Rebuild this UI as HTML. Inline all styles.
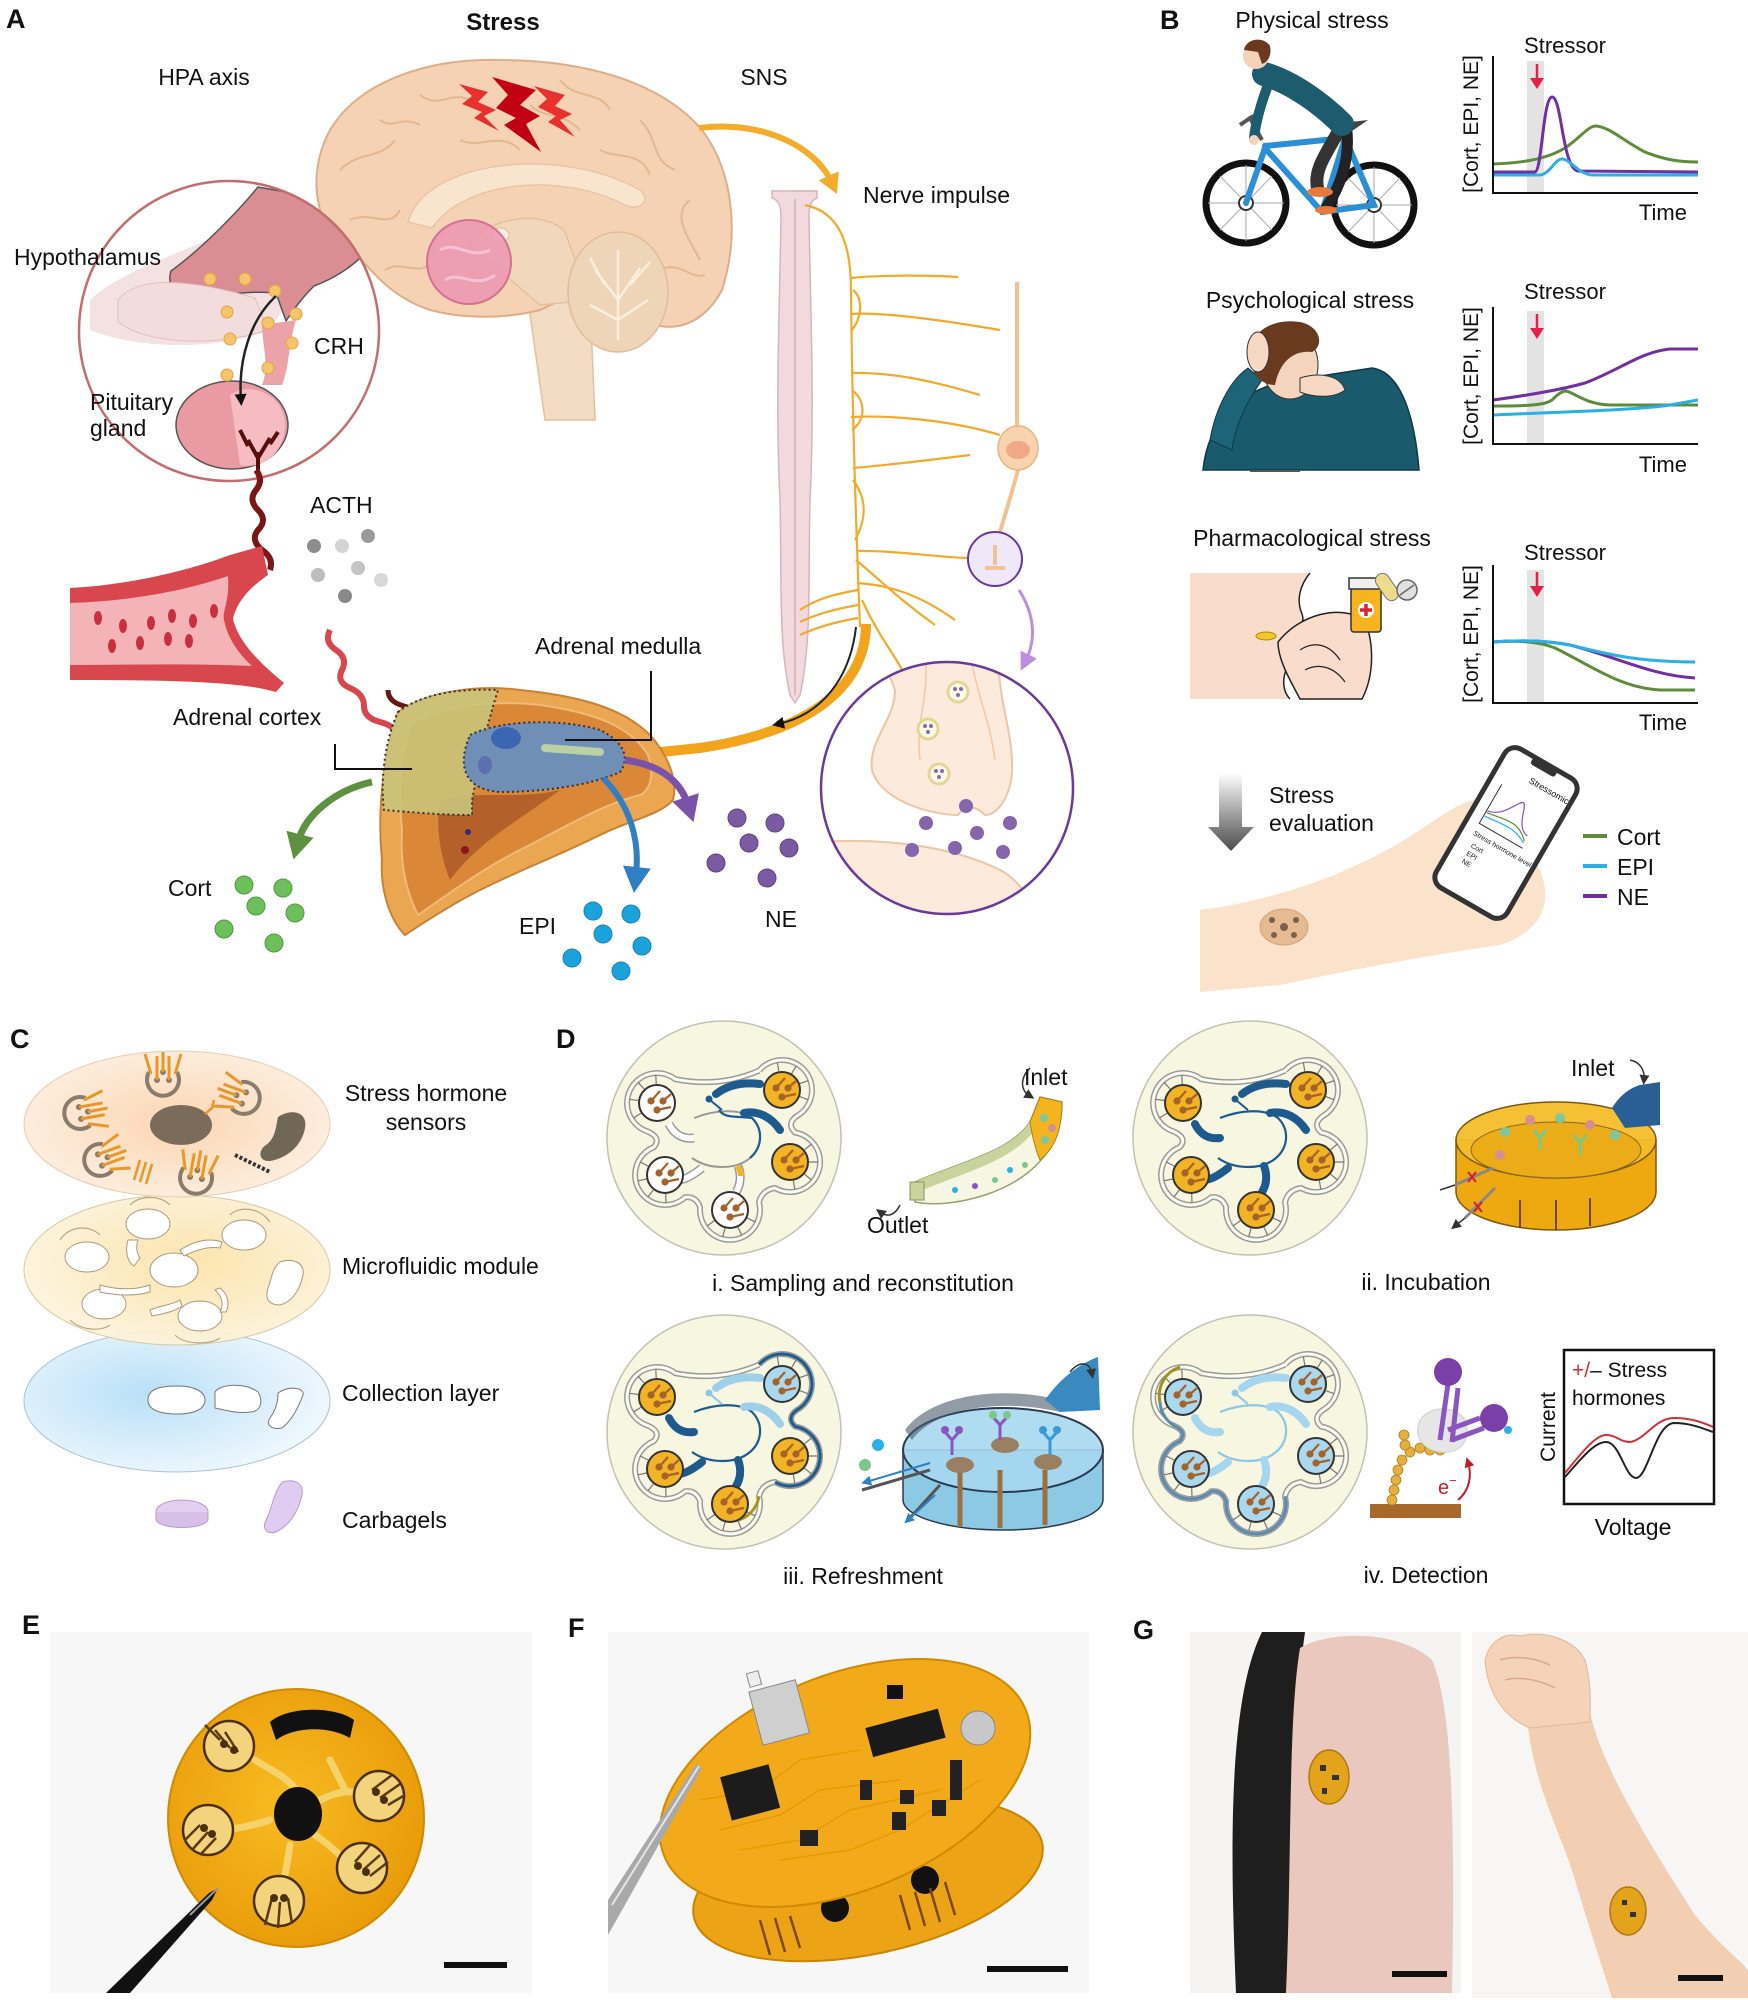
<!DOCTYPE html>
<html><head><meta charset="utf-8"><style>
html,body{margin:0;padding:0;background:#fff;}
svg{display:block;}
text{font-family:"Liberation Sans",Arial,sans-serif;fill:#111;}
.b{font-weight:bold;}
</style></head><body>
<svg width="1748" height="2000" viewBox="0 0 1748 2000" xmlns="http://www.w3.org/2000/svg">
<defs>
 <marker id="mOr" markerUnits="userSpaceOnUse" markerWidth="22" markerHeight="22" refX="8" refY="11" orient="auto"><path d="M0,0 L20,11 L0,22 z" fill="#f3ad2c"/></marker>
 <marker id="mBk" markerUnits="userSpaceOnUse" markerWidth="12" markerHeight="12" refX="6" refY="6" orient="auto"><path d="M0,0 L12,6 L0,12 z" fill="#111"/></marker>
 <marker id="mGr" markerUnits="userSpaceOnUse" markerWidth="28" markerHeight="28" refX="8" refY="14" orient="auto"><path d="M0,0 L26,14 L0,28 z" fill="#5d913f"/></marker>
 <marker id="mBl" markerUnits="userSpaceOnUse" markerWidth="28" markerHeight="28" refX="8" refY="14" orient="auto"><path d="M0,0 L26,14 L0,28 z" fill="#2f7fc4"/></marker>
 <marker id="mPu" markerUnits="userSpaceOnUse" markerWidth="28" markerHeight="28" refX="8" refY="14" orient="auto"><path d="M0,0 L26,14 L0,28 z" fill="#7a52aa"/></marker>
 <marker id="mLp" markerUnits="userSpaceOnUse" markerWidth="18" markerHeight="18" refX="6" refY="9" orient="auto"><path d="M0,0 L18,9 L0,18 z" fill="#bb8ee0"/></marker>
 <marker id="mSm" markerUnits="userSpaceOnUse" markerWidth="10" markerHeight="10" refX="5" refY="5" orient="auto"><path d="M0,0 L10,5 L0,10 z" fill="#333"/></marker>
 <marker id="mRd" markerUnits="userSpaceOnUse" markerWidth="10" markerHeight="10" refX="5" refY="5" orient="auto"><path d="M0,0 L10,5 L0,10 z" fill="#c0202a"/></marker>
 <marker id="mDb" markerUnits="userSpaceOnUse" markerWidth="10" markerHeight="10" refX="5" refY="5" orient="auto"><path d="M0,0 L10,5 L0,10 z" fill="#2f7fc4"/></marker>
 <linearGradient id="gArrow" x1="0" y1="0" x2="0" y2="1"><stop offset="0" stop-color="#ffffff"/><stop offset="1" stop-color="#4a4a4a"/></linearGradient>
 <radialGradient id="gTop" cx="0.5" cy="0.5" r="0.6"><stop offset="0" stop-color="#fbd3ad"/><stop offset="1" stop-color="#fdf1e4"/></radialGradient>
 <radialGradient id="gMid" cx="0.55" cy="0.45" r="0.6"><stop offset="0" stop-color="#fbe2a6"/><stop offset="1" stop-color="#fdf4df"/></radialGradient>
 <radialGradient id="gBot" cx="0.4" cy="0.45" r="0.6"><stop offset="0" stop-color="#b9e0f8"/><stop offset="1" stop-color="#eef7fd"/></radialGradient>
 <radialGradient id="gDisc" cx="0.45" cy="0.45" r="0.6"><stop offset="0" stop-color="#f8bb22"/><stop offset="1" stop-color="#e89a08"/></radialGradient>
 <clipPath id="cpH"><circle cx="229" cy="331" r="149"/></clipPath>
 <clipPath id="cpS"><circle cx="947" cy="788" r="125"/></clipPath>

 <g id="elO"><circle r="18" fill="#f2b324" stroke="#333" stroke-width="2"/><path d="M-6,-2 L3,-12 M6,-2 L14,-9 M0,7 L14,4" stroke="#a5632a" stroke-width="2.2" fill="none"/><circle cx="-6" cy="-2" r="3.6" fill="#a5632a"/><circle cx="6" cy="-2" r="3.6" fill="#a5632a"/><circle cx="0" cy="7" r="3.6" fill="#a5632a"/></g>
 <g id="elW"><circle r="18" fill="#fff" stroke="#333" stroke-width="2"/><path d="M-6,-2 L3,-12 M6,-2 L14,-9 M0,7 L14,4" stroke="#a5632a" stroke-width="2.2" fill="none"/><circle cx="-6" cy="-2" r="3.6" fill="#a5632a"/><circle cx="6" cy="-2" r="3.6" fill="#a5632a"/><circle cx="0" cy="7" r="3.6" fill="#a5632a"/></g>
 <g id="elB"><circle r="18" fill="#a9d8ef" stroke="#333" stroke-width="2"/><path d="M-6,-2 L3,-12 M6,-2 L14,-9 M0,7 L14,4" stroke="#a5632a" stroke-width="2.2" fill="none"/><circle cx="-6" cy="-2" r="3.6" fill="#a5632a"/><circle cx="6" cy="-2" r="3.6" fill="#a5632a"/><circle cx="0" cy="7" r="3.6" fill="#a5632a"/></g>
 <path id="flower" d="M35.1,-67.4 A30,30 0 1 1 72.8,-21.9 Q62,-14 71.2,-5.5 A30,30 0 1 1 51,50 Q38,52 35,64.3 A30,30 0 1 1 -23.9,69.3 Q-28,58 -38.9,59.3 A30,30 0 1 1 -70.3,9.2 Q-62,0 -76.1,-6.4 A30,30 0 1 1 -48.7,-58.8 Q-5,-50 35.1,-67.4"/>
 <g id="dbase">
  <circle r="117" fill="#f7f7e1" stroke="#c2c2b2" stroke-width="1.5"/>
  <use href="#flower" fill="none" stroke="#9a9a9a" stroke-width="6"/>
  <use href="#flower" fill="none" stroke="#fbfbf0" stroke-width="3"/>
  <g stroke="#777" stroke-width="1.2">
   <path d="M54.8,-66.7 L53.3,-75.6 M67.6,-64.4 L72.2,-72.1 M75.9,-54.4 L84.4,-57.4 M75.8,-41.4 L84.2,-38.2"/>
   <path d="M80.6,11.8 L87.4,6 M85,24 L94,24 M80.6,36.2 L87.4,42 M69.3,42.7 L70.9,51.6"/>
   <path d="M23.2,80.1 L31.3,83.9 M14,89.3 L17.7,97.4 M1,90.3 L-1.3,99 M-9.6,82.8 L-17,88"/>
   <path d="M-58.3,56 L-58,65 M-70.7,52 L-76.2,59.1 M-77.6,41 L-86.4,42.9 M-75.8,28.1 L-83.8,23.9"/>
   <path d="M-83,-24.8 L-90.6,-20 M-85.8,-37.5 L-94.7,-38.7 M-79.8,-49 L-85.9,-55.7 M-67.8,-54 L-68.2,-63"/>
  </g>
 </g>
 <g id="sensC" fill="none">
  <path d="M-14,-8 A16,16 0 1 0 14,-8" stroke="#8a7c6c" stroke-width="4"/>
  <circle cx="-6" cy="0" r="3" fill="#8a7c6c"/><circle cx="6" cy="0" r="3" fill="#8a7c6c"/><circle cx="0" cy="-8" r="3" fill="#8a7c6c"/>
  <path d="M-6,0 L-6,-24 M0,-8 L0,-28 M6,0 L6,-24 M12,-6 L18,-26 M-12,-6 L-18,-26" stroke="#e8982a" stroke-width="3"/>
 </g>
</defs>

<!-- ================= PANEL A ================= -->
<text x="6" y="28" font-size="27" class="b">A</text>
<text x="503" y="30" font-size="24" class="b" text-anchor="middle">Stress</text>
<text x="204" y="85" font-size="23" text-anchor="middle">HPA axis</text>
<text x="764" y="85" font-size="23" text-anchor="middle">SNS</text>

<!-- brain -->
<path d="M590,300 L595,420 L545,420 L528,300 Z" fill="#f3dcc4" stroke="#e3c09f" stroke-width="1.5"/>
<path d="M360,258 C318,240 303,180 330,130 C360,80 430,58 500,60 C580,60 660,80 702,130 C736,175 738,240 722,290 C706,320 682,330 660,326 L610,305 C575,292 560,300 540,310 C500,320 460,318 430,310 C400,300 380,282 360,258 Z" fill="#f4d2b3" stroke="#dfae89" stroke-width="2"/>
<g fill="none" stroke="#e3b792" stroke-width="2">
 <path d="M340,170 C360,150 380,160 395,140 M420,95 C440,110 450,90 470,100 M560,80 C575,100 600,90 610,110 M640,120 C660,140 650,160 675,170 M690,200 C670,215 690,240 700,260 M350,220 C370,210 390,230 400,210 M600,150 C620,160 640,150 650,175 M460,140 C480,150 500,130 520,150"/>
 <path d="M380,120 C395,130 400,115 420,125 M530,105 C545,120 560,110 580,130 M660,270 C680,260 690,280 705,275 M385,270 C400,260 415,275 430,265"/>
</g>
<path d="M408,222 C425,160 560,145 640,190 C652,200 640,212 625,205 C560,172 465,180 432,228 Z" fill="#f9e5cd" stroke="#e7c6a6" stroke-width="1.5"/>
<path d="M470,245 C490,215 545,210 565,232 L590,300 L540,305 Z" fill="#f1d8bd" stroke="#e3c09f" stroke-width="1.5"/>
<ellipse cx="500" cy="235" rx="9" ry="7" fill="#fbeede" stroke="#e0bb98"/>
<ellipse cx="618" cy="292" rx="50" ry="60" fill="#efd5b8" stroke="#e0bd9a" stroke-width="1.5"/>
<path d="M618,340 L618,250 M618,300 L595,270 M618,300 L640,268 M618,320 L590,305 M618,320 L648,300 M605,285 L590,258 M630,285 L650,262" stroke="#fbeede" stroke-width="2.5" fill="none"/>
<circle cx="469" cy="262" r="42" fill="#ec95b2" fill-opacity="0.85" stroke="#d66f93" stroke-width="2"/>
<path d="M440,250 C455,240 470,260 490,250 M445,280 C460,270 475,290 495,275" stroke="#f7c2d4" stroke-width="3" fill="none"/>
<!-- bolts -->
<polygon points="459,84 488,92 478,102 496,110 484,116 499,131 474,118 482,112 462,104 472,96" fill="#e8312f"/>
<polygon points="492,77 536,90 520,105 540,116 526,124 541,152 504,125 516,118 496,108 508,95" fill="#c20014"/>
<polygon points="534,86 565,95 555,106 572,114 560,120 575,137 548,122 556,116 538,107 547,99" fill="#e8312f"/>

<!-- hypothalamus zoom circle -->
<circle cx="229" cy="331" r="150" fill="#fff"/>
<g clip-path="url(#cpH)">
 <path d="M90,300 C130,260 240,240 320,180 L380,150 L390,200 C340,240 300,280 270,330 C220,350 140,350 90,330 Z" fill="#f4e2e2"/>
 <path d="M258,187 L331,200 C350,215 365,235 368,250 C350,270 330,280 314,286 C300,300 292,312 286,321 L276,293 C250,290 215,296 185,300 C170,292 168,280 171,271 C200,250 235,215 258,187 Z" fill="#da8e93" stroke="#555" stroke-width="1.5"/>
 <path d="M118,300 C140,272 200,282 255,298 L268,330 C220,346 150,346 118,322 Z" fill="#f2dcdc" stroke="#e0c0c0"/>
 <path d="M262,325 C262,345 270,365 262,385 L282,385 C290,365 288,345 296,320 Z" fill="#eba3a9"/>
 <ellipse cx="232" cy="425" rx="56" ry="44" fill="#ea9aa2" stroke="#555" stroke-width="1.5"/>
 <path d="M230,395 C250,380 285,395 285,425 C285,455 260,470 240,465 Z" fill="#f6bcc1"/>
</g>
<circle cx="229" cy="331" r="150" fill="none" stroke="#c46d6f" stroke-width="2.5"/>
<g fill="#f6c46b" stroke="#e2a445" stroke-width="1">
 <circle cx="210" cy="279" r="6"/><circle cx="245" cy="279" r="6"/><circle cx="275" cy="291" r="6"/><circle cx="227" cy="312" r="6"/><circle cx="268" cy="323" r="6"/><circle cx="296" cy="314" r="6"/><circle cx="230" cy="339" r="6"/><circle cx="292" cy="343" r="6"/><circle cx="268" cy="368" r="6"/><circle cx="227" cy="375" r="6"/>
</g>
<path d="M276,296 C250,320 238,360 241,400" stroke="#222" stroke-width="2.5" fill="none" marker-end="url(#mBk)"/>
<path d="M258,472 L258,452 M258,458 L248,440 M258,458 L270,438 M248,446 L240,430 M270,444 L278,432" stroke="#5a0d0d" stroke-width="4" fill="none"/>
<text x="14" y="265" font-size="23">Hypothalamus</text>
<text x="314" y="354" font-size="23">CRH</text>
<text x="90" y="410" font-size="23">Pituitary</text>
<text x="90" y="436" font-size="23">gland</text>
<text x="310" y="513" font-size="23">ACTH</text>

<!-- wavy vessels -->
<path d="M256,470 q8,10 0,20 q-8,10 2,20 q10,10 0,20 q-8,10 4,20 q12,8 8,20" stroke="#7a1616" stroke-width="6" fill="none"/>
<path d="M330,630 q-6,12 6,20 q12,8 6,20 q-6,12 8,18 q14,6 14,18 q0,12 16,16 q16,4 20,16 q4,12 24,14 L432,716" stroke="#d9474e" stroke-width="6" fill="none"/>
<path d="M388,690 q0,12 16,16 q16,4 20,16 L440,740 L440,790" stroke="#6a1414" stroke-width="5" fill="none"/>
<!-- ACTH dots -->
<circle cx="314" cy="546" r="7" fill="#8c8c8c"/><circle cx="342" cy="546" r="7" fill="#d4d4d4"/><circle cx="368" cy="536" r="7" fill="#9a9a9a"/><circle cx="318" cy="575" r="7" fill="#bdbdbd"/><circle cx="358" cy="568" r="7" fill="#c4c4c4"/><circle cx="381" cy="580" r="7" fill="#d8d8d8"/><circle cx="345" cy="596" r="7" fill="#8a8a8a"/>

<!-- blood vessel -->
<path d="M70,588 C130,585 190,570 230,555 L262,546 L268,575 C246,590 236,605 233,619 C238,640 256,660 284,683 L276,692 C240,681 160,680 70,680 Z" fill="#d9474e"/>
<path d="M70,603 C130,601 185,591 228,576 C230,600 222,612 224,620 C228,640 240,655 252,666 C190,663 130,665 70,665 Z" fill="#f4b3b6"/>
<g fill="#c8303f">
 <ellipse cx="98" cy="618" rx="4" ry="7"/><ellipse cx="123" cy="626" rx="4" ry="7"/><ellipse cx="151" cy="623" rx="4" ry="7"/><ellipse cx="172" cy="616" rx="4" ry="7"/><ellipse cx="193" cy="621" rx="4" ry="7"/><ellipse cx="214" cy="611" rx="4" ry="7"/><ellipse cx="112" cy="646" rx="4" ry="7"/><ellipse cx="140" cy="643" rx="4" ry="7"/><ellipse cx="168" cy="639" rx="4" ry="7"/><ellipse cx="189" cy="641" rx="4" ry="7"/>
</g>

<!-- spinal cord and nerves -->
<path d="M772,191 L817,191 L817,198 C812,200 809,205 809,215 C810,300 815,400 810,500 C808,580 812,640 800,695 L795,703 L790,695 C778,640 782,580 780,500 C775,400 780,300 781,215 C781,205 778,200 772,198 Z" fill="#f1d9dd" stroke="#d8b5ba" stroke-width="1.5"/>
<line x1="795" y1="199" x2="795" y2="695" stroke="#d3aeb4" stroke-width="1.5"/>
<path d="M699,128 C760,120 815,145 832,183" stroke="#f3ad2c" stroke-width="6" fill="none" marker-end="url(#mOr)"/>
<text x="863" y="203" font-size="23">Nerve impulse</text>
<g stroke="#f2aa2a" stroke-width="2.2" fill="none">
 <path d="M805,205 C840,212 851,245 851,290 C852,400 855,500 860,627"/>
 <path d="M851,278 C880,275 930,275 958,277"/><path d="M851,314 C880,312 930,318 1000,330"/><path d="M851,373 C890,372 930,380 980,395"/><path d="M851,417 C890,415 950,420 1000,435"/><path d="M853,468 C890,465 930,460 970,455"/><path d="M856,551 C900,550 950,560 990,558"/><path d="M857,583 C890,585 920,595 955,620"/>
 <path d="M858,590 C830,595 815,600 800,610"/><path d="M858,605 C830,610 815,615 800,622"/><path d="M858,618 C835,622 815,628 800,635"/>
 <path d="M853,290 C865,300 860,320 852,330 M852,390 C866,400 866,420 852,430 M853,480 C868,500 866,520 855,540"/>
 <path d="M862,600 C880,640 900,660 912,690"/><path d="M856,560 C880,580 900,600 935,625"/>
</g>
<path d="M866,624 C866,680 820,730 700,748 C660,752 630,755 612,758" stroke="#f2a51c" stroke-width="10" fill="none"/>
<path d="M856,627 C850,680 820,715 778,724" stroke="#222" stroke-width="2" fill="none" marker-end="url(#mBk)"/>
<!-- neuron -->
<path d="M1017,282 L1017,430 M1018,470 C1010,500 1000,530 995,550" stroke="#f1c393" stroke-width="4" fill="none"/>
<ellipse cx="1018" cy="448" rx="20" ry="22" fill="#f8d3ad" stroke="#e9b383" stroke-width="1.5"/>
<ellipse cx="1018" cy="450" rx="12" ry="9" fill="#efa987"/>
<circle cx="995" cy="559" r="27" fill="#efe8f8" stroke="#6a3a9a" stroke-width="2"/>
<path d="M995,545 L995,565 M985,568 L1005,568" stroke="#f1c393" stroke-width="4"/>
<path d="M1019,590 C1035,615 1036,640 1026,660" stroke="#bb8ee0" stroke-width="3" fill="none" marker-end="url(#mLp)"/>

<!-- synapse circle -->
<circle cx="947" cy="788" r="126" fill="#fff"/>
<g clip-path="url(#cpS)">
 <path d="M880,650 L1000,650 C995,690 1010,720 1012,760 C1014,790 1000,815 985,815 C975,805 965,805 958,815 C930,815 880,800 872,770 C868,740 895,720 895,690 Z" fill="#fcebdc" stroke="#ecc6a5" stroke-width="2"/>
 <path d="M820,842 C880,838 950,845 1000,870 C1020,880 1030,900 1040,920 L820,920 Z" fill="#fcebdc" stroke="#ecc6a5" stroke-width="2"/>
 <path d="M925,650 C930,700 915,720 920,760 M970,650 C975,690 990,720 995,760" stroke="#f2c89c" stroke-width="1.5" fill="none"/>
</g>
<circle cx="947" cy="788" r="126" fill="none" stroke="#6a3a9a" stroke-width="2.5"/>
<g fill="#fffbe6" stroke="#e3d597" stroke-width="3"><circle cx="958" cy="692" r="10"/><circle cx="928" cy="729" r="10"/><circle cx="939" cy="774" r="10"/></g>
<g fill="#8a6ab5"><circle cx="955" cy="689" r="2"/><circle cx="961" cy="689" r="2"/><circle cx="958" cy="695" r="2"/><circle cx="925" cy="726" r="2"/><circle cx="931" cy="726" r="2"/><circle cx="928" cy="732" r="2"/><circle cx="936" cy="771" r="2"/><circle cx="942" cy="771" r="2"/><circle cx="939" cy="777" r="2"/></g>
<g fill="#8566ad"><circle cx="966" cy="806" r="7"/><circle cx="926" cy="823" r="7"/><circle cx="977" cy="833" r="7"/><circle cx="1010" cy="823" r="7"/><circle cx="912" cy="850" r="7"/><circle cx="955" cy="848" r="7"/><circle cx="1003" cy="852" r="7"/></g>

<!-- adrenal gland -->
<path d="M398,712 C430,690 480,685 520,690 C570,695 620,705 650,735 C668,755 678,780 673,800 C660,815 630,820 600,835 C560,855 520,870 480,890 C450,905 420,925 405,935 C390,920 380,890 382,860 C378,820 380,770 398,712 Z" fill="#eba652" stroke="#c98232" stroke-width="2"/>
<path d="M410,725 C440,705 500,700 540,705 C590,712 630,725 648,755 C655,775 650,790 640,795 C600,805 560,830 520,850 C480,870 440,900 418,915 C405,890 400,860 402,830 C398,790 400,760 410,725 Z" fill="#da8838" stroke="#efbb78" stroke-width="2"/>
<path d="M440,800 C470,790 520,800 560,790 C520,820 480,840 450,880 C438,850 436,820 440,800 Z" fill="#b4602a"/>
<path d="M398,712 C420,695 455,688 498,690 C485,730 478,770 472,800 L472,815 C440,815 410,812 384,810 C380,780 385,740 398,712 Z" fill="#c9c47a" fill-opacity="0.9" stroke="#333" stroke-width="2" stroke-dasharray="2,3"/>
<path d="M470,735 C500,720 560,718 600,730 C620,740 632,755 620,772 C590,786 540,792 500,792 C468,790 455,770 470,735 Z" fill="#708fb7" stroke="#333" stroke-width="2" stroke-dasharray="2,3"/>
<ellipse cx="506" cy="738" rx="15" ry="11" fill="#3d66b2"/>
<ellipse cx="485" cy="765" rx="7" ry="9" fill="#5c70b0"/>
<path d="M545,748 L600,752" stroke="#b9d1a4" stroke-width="8" stroke-linecap="round"/>
<circle cx="465" cy="850" r="4" fill="#8a1a1a"/><circle cx="468" cy="832" r="3" fill="#3a2a6a"/>
<!-- labels and brackets -->
<text x="173" y="725" font-size="23">Adrenal cortex</text>
<path d="M335,744 L335,769 L412,769" stroke="#111" stroke-width="2" fill="none"/>
<text x="535" y="654" font-size="23">Adrenal medulla</text>
<path d="M651,671 L651,740 L565,740" stroke="#111" stroke-width="2" fill="none"/>
<!-- hormone arrows -->
<path d="M372,782 C335,790 305,815 298,842" stroke="#5d913f" stroke-width="7" fill="none" marker-end="url(#mGr)"/>
<path d="M603,778 C630,805 640,840 636,875" stroke="#2f7fc4" stroke-width="6" fill="none" marker-end="url(#mBl)"/>
<path d="M625,760 C660,765 680,780 688,805" stroke="#7a52aa" stroke-width="7" fill="none" marker-end="url(#mPu)"/>
<g fill="#6cbf5a" stroke="#4f9a42" stroke-width="1"><circle cx="244" cy="885" r="9"/><circle cx="283" cy="888" r="9"/><circle cx="256" cy="906" r="9"/><circle cx="295" cy="913" r="9"/><circle cx="224" cy="929" r="9"/><circle cx="274" cy="943" r="9"/></g>
<g fill="#1ca2da" stroke="#1485b8" stroke-width="1"><circle cx="593" cy="911" r="9"/><circle cx="631" cy="914" r="9"/><circle cx="603" cy="934" r="9"/><circle cx="642" cy="946" r="9"/><circle cx="572" cy="958" r="9"/><circle cx="621" cy="971" r="9"/></g>
<g fill="#7b5aa4" stroke="#5f4388" stroke-width="1"><circle cx="737" cy="818" r="9"/><circle cx="775" cy="823" r="9"/><circle cx="749" cy="843" r="9"/><circle cx="789" cy="848" r="9"/><circle cx="716" cy="863" r="9"/><circle cx="767" cy="878" r="9"/></g>
<text x="168" y="896" font-size="23">Cort</text>
<text x="519" y="934" font-size="23">EPI</text>
<text x="765" y="927" font-size="23">NE</text>

<!-- ================= PANEL B ================= -->
<text x="1160" y="29" font-size="27" class="b">B</text>
<text x="1312" y="28" font-size="23" text-anchor="middle">Physical stress</text>
<text x="1310" y="308" font-size="23" text-anchor="middle">Psychological stress</text>
<text x="1312" y="546" font-size="23" text-anchor="middle">Pharmacological stress</text>

<!-- cyclist -->
<g>
 <circle cx="1246" cy="203" r="40" fill="none" stroke="#111" stroke-width="7"/>
 <circle cx="1374" cy="205" r="40" fill="none" stroke="#111" stroke-width="7"/>
 <g stroke="#aaa" stroke-width="1"><path d="M1246,165 L1246,241 M1208,203 L1284,203 M1220,176 L1272,230 M1220,230 L1272,176 M1374,167 L1374,243 M1336,205 L1412,205 M1348,178 L1400,232 M1348,232 L1400,178"/></g>
 <circle cx="1246" cy="203" r="7" fill="#fff" stroke="#333" stroke-width="2"/><circle cx="1374" cy="205" r="7" fill="#fff" stroke="#333" stroke-width="2"/>
 <g stroke="#2b8fd6" stroke-width="6" stroke-linecap="round" fill="none"><path d="M1246,203 L1265,148 L1322,212 L1374,205 L1345,138 L1265,146 M1345,138 L1322,212"/></g>
 <path d="M1262,140 L1250,118 L1240,125 M1250,118 L1262,112" stroke="#555" stroke-width="4" fill="none"/>
 <polygon points="1333,124 1368,120 1352,131" fill="#444"/>
 <path d="M1342,124 C1330,150 1312,168 1318,190" stroke="#333" stroke-width="13" fill="none" stroke-linecap="round"/>
 <path d="M1346,124 C1352,160 1338,190 1326,208" stroke="#222" stroke-width="11" fill="none" stroke-linecap="round"/>
 <ellipse cx="1320" cy="192" rx="13" ry="5" fill="#e8793a"/><ellipse cx="1326" cy="210" rx="11" ry="4" fill="#e8793a"/>
 <path d="M1264,74 C1292,82 1322,104 1342,124" stroke="#1d5b6f" stroke-width="24" fill="none" stroke-linecap="round"/>
 <path d="M1270,80 C1262,100 1256,120 1254,138" stroke="#1d5b6f" stroke-width="10" fill="none" stroke-linecap="round"/>
 <circle cx="1254" cy="140" r="5" fill="#f6d2b8"/>
 <circle cx="1256" cy="56" r="13" fill="#f6d2b8"/>
 <path d="M1244,50 C1246,38 1264,36 1270,46 C1272,55 1268,62 1262,64 L1258,52 Z" fill="#6b3a1e"/>
</g>
<!-- psychological person -->
<g>
 <path d="M1203,470 C1208,420 1240,392 1282,382 L1372,368 C1402,372 1415,420 1419,470 Z" fill="#195a6d" stroke="#0e3a48" stroke-width="1.5"/>
 <path d="M1210,440 C1215,410 1230,380 1248,368 L1262,380 C1248,400 1235,425 1232,450 Z" fill="#1d6479" stroke="#0e3a48" stroke-width="1"/>
 <ellipse cx="1290" cy="365" rx="28" ry="34" fill="#f5d4be" stroke="#333" stroke-width="1"/>
 <path d="M1250,355 C1250,330 1275,318 1300,322 C1320,326 1325,345 1312,352 C1295,350 1280,360 1275,385 C1260,385 1250,372 1250,355 Z" fill="#6a3a1f"/>
 <ellipse cx="1258" cy="352" rx="11" ry="20" fill="#f7d8c4" stroke="#333" stroke-width="1"/>
 <path d="M1300,378 C1320,372 1340,375 1345,390 C1335,398 1315,398 1300,392 Z" fill="#f7d8c4" stroke="#333" stroke-width="1"/>
 <line x1="1250" y1="471" x2="1300" y2="471" stroke="#555" stroke-width="2"/>
</g>
<!-- pharmacological -->
<g>
 <path d="M1190,573 L1310,573 C1300,585 1296,600 1302,614 C1306,624 1296,630 1291,640 C1296,650 1291,660 1286,670 C1281,684 1285,694 1290,699 L1190,699 Z" fill="#f9dccb"/>
 <path d="M1310,573 C1300,585 1296,600 1302,614 C1306,624 1296,630 1291,640 C1296,650 1291,660 1286,670 C1281,684 1285,694 1290,699" stroke="#222" stroke-width="1.5" fill="none"/>
 <ellipse cx="1266" cy="636" rx="10" ry="4" fill="#f3c62a" stroke="#a88a10"/>
 <path d="M1278,642 C1300,614 1340,604 1365,620 C1376,650 1372,680 1362,699 L1300,699 C1290,680 1278,660 1278,642 Z" fill="#f9dccb" stroke="#222" stroke-width="1.5"/>
 <path d="M1300,650 C1315,640 1330,645 1340,660 M1305,670 C1320,662 1335,668 1345,682" stroke="#222" stroke-width="1.2" fill="none"/>
 <rect x="1351" y="588" width="30" height="44" rx="3" fill="#f6b51e" stroke="#333" stroke-width="1.5"/>
 <rect x="1349" y="578" width="34" height="11" fill="#f0f0f0" stroke="#333" stroke-width="1.5"/>
 <circle cx="1366" cy="610" r="8" fill="#fff"/>
 <path d="M1366,604 L1366,616 M1360,610 L1372,610" stroke="#d9272e" stroke-width="3.5"/>
 <rect x="1380" y="572" width="14" height="30" rx="7" fill="#efdb8c" stroke="#777" transform="rotate(-35 1387 587)"/>
 <circle cx="1407" cy="590" r="10" fill="#e0e0e0" stroke="#666" stroke-width="1.5"/>
 <line x1="1400" y1="595" x2="1414" y2="585" stroke="#666" stroke-width="1.5"/>
</g>

<!-- charts -->
<g font-size="21">
 <rect x="1527" y="61" width="17" height="132" fill="#e3e3e3"/>
 <line x1="1537" y1="64" x2="1537" y2="80" stroke="#e3204a" stroke-width="2.5"/><polygon points="1530,78 1544,78 1537,89" fill="#e3204a"/>
 <path d="M1493,164 C1520,163 1545,160 1565,148 C1580,138 1588,126 1596,126 C1610,127 1625,142 1645,152 C1665,160 1680,162 1698,162" stroke="#5e8c3a" stroke-width="3" fill="none"/>
 <path d="M1493,172 L1535,172 C1542,171 1543,97 1552,97 C1562,97 1562,168 1578,171 L1698,172" stroke="#7030a0" stroke-width="3" fill="none"/>
 <path d="M1493,175 L1540,175 C1550,174 1555,159 1562,159 C1570,159 1578,174 1592,175 L1698,175" stroke="#2ab0e6" stroke-width="3" fill="none"/>
 <path d="M1493,56 L1493,193 L1698,193" stroke="#111" stroke-width="2" fill="none"/>
 <text x="1565" y="53" text-anchor="middle" font-size="22">Stressor</text>
 <text x="1687" y="220" text-anchor="end" font-size="22">Time</text>
 <text transform="translate(1478,124) rotate(-90)" text-anchor="middle">[Cort, EPI, NE]</text>
 <rect x="1527" y="311" width="17" height="133" fill="#e3e3e3"/>
 <line x1="1537" y1="314" x2="1537" y2="330" stroke="#e3204a" stroke-width="2.5"/><polygon points="1530,328 1544,328 1537,339" fill="#e3204a"/>
 <path d="M1493,400 C1530,395 1560,390 1585,383 C1620,370 1640,352 1670,349 L1698,349" stroke="#7030a0" stroke-width="3" fill="none"/>
 <path d="M1493,406 C1530,406 1545,405 1552,400 C1558,394 1562,391 1566,391 C1575,393 1585,404 1610,405 L1698,405" stroke="#5e8c3a" stroke-width="3" fill="none"/>
 <path d="M1493,415 C1560,412 1640,410 1670,405 L1698,400" stroke="#2ab0e6" stroke-width="3" fill="none"/>
 <path d="M1493,307 L1493,444 L1698,444" stroke="#111" stroke-width="2" fill="none"/>
 <text x="1565" y="299" text-anchor="middle" font-size="22">Stressor</text>
 <text x="1687" y="472" text-anchor="end" font-size="22">Time</text>
 <text transform="translate(1478,376) rotate(-90)" text-anchor="middle">[Cort, EPI, NE]</text>
 <rect x="1527" y="570" width="17" height="133" fill="#e3e3e3"/>
 <line x1="1537" y1="572" x2="1537" y2="588" stroke="#e3204a" stroke-width="2.5"/><polygon points="1530,586 1544,586 1537,597" fill="#e3204a"/>
 <path d="M1493,642 C1520,640 1540,642 1555,648 C1590,665 1620,688 1660,690 L1695,690" stroke="#5e8c3a" stroke-width="3" fill="none"/>
 <path d="M1493,642 C1520,640 1545,640 1570,645 C1620,658 1650,675 1695,678" stroke="#7030a0" stroke-width="3" fill="none"/>
 <path d="M1493,642 C1520,640 1545,640 1570,645 C1610,655 1640,662 1695,662" stroke="#2ab0e6" stroke-width="3" fill="none"/>
 <path d="M1493,565 L1493,703 L1698,703" stroke="#111" stroke-width="2" fill="none"/>
 <text x="1565" y="560" text-anchor="middle" font-size="22">Stressor</text>
 <text x="1687" y="730" text-anchor="end" font-size="22">Time</text>
 <text transform="translate(1478,634) rotate(-90)" text-anchor="middle">[Cort, EPI, NE]</text>
</g>

<!-- stress evaluation -->
<path d="M1219,773 L1242,773 L1242,827 L1254,827 L1231,851 L1208,827 L1219,827 Z" fill="url(#gArrow)"/>
<text x="1269" y="803" font-size="23">Stress</text>
<text x="1269" y="831" font-size="23">evaluation</text>
<path d="M1200,910 C1280,900 1360,870 1420,830 C1450,810 1470,795 1490,800 L1540,870 C1552,900 1545,930 1500,945 C1430,955 1350,970 1280,985 L1200,992 Z" fill="#fae2cb"/>
<ellipse cx="1284" cy="927" rx="24" ry="18" fill="#e6bb92" stroke="#d4a27a"/>
<g fill="#7a6050"><circle cx="1284" cy="927" r="4"/><circle cx="1272" cy="920" r="3"/><circle cx="1296" cy="920" r="3"/><circle cx="1274" cy="935" r="3"/><circle cx="1294" cy="935" r="3"/></g>
<g transform="translate(1506,833) rotate(30)">
 <rect x="-41" y="-80" width="82" height="160" rx="12" fill="#fff" stroke="#333" stroke-width="5"/>
 <rect x="-14" y="-80" width="28" height="8" rx="3" fill="#333"/>
 <text x="-6" y="-55" font-size="9">Stressomic</text>
 <path d="M-28,-40 L-28,5 L22,5" stroke="#333" stroke-width="1" fill="none"/>
 <path d="M-27,-10 C-10,-12 -5,-35 0,-35 C5,-35 5,-10 20,-8" stroke="#8a55c0" stroke-width="1.2" fill="none"/>
 <path d="M-27,-8 C-10,-10 5,-18 20,-2" stroke="#5e8c3a" stroke-width="1.2" fill="none"/>
 <path d="M-27,-4 C-10,-5 5,-10 20,0" stroke="#2ab0e6" stroke-width="1.2" fill="none"/>
 <text x="-28" y="18" font-size="7">Stress hormone level</text>
 <text x="-24" y="30" font-size="7" fill="#5e8c3a">Cort</text><text x="-24" y="39" font-size="7" fill="#2ab0e6">EPI</text><text x="-24" y="48" font-size="7" fill="#8a55c0">NE</text>
</g>
<line x1="1583" y1="836" x2="1607" y2="836" stroke="#5e8c3a" stroke-width="4"/>
<line x1="1583" y1="866" x2="1607" y2="866" stroke="#2ab0e6" stroke-width="4"/>
<line x1="1583" y1="896" x2="1607" y2="896" stroke="#7030a0" stroke-width="4"/>
<text x="1617" y="845" font-size="23">Cort</text>
<text x="1617" y="875" font-size="23">EPI</text>
<text x="1617" y="905" font-size="23">NE</text>

<!-- ================= PANEL C ================= -->
<text x="10" y="1048" font-size="27" class="b">C</text>
<ellipse cx="177" cy="1401" rx="153" ry="71" fill="url(#gBot)" stroke="#a9c3d6" stroke-width="1"/>
<path d="M148,1400 C148,1388 162,1386 178,1386 C195,1386 205,1392 205,1400 C205,1410 192,1414 178,1414 C160,1414 148,1410 148,1400 Z" fill="#fff" stroke="#777"/>
<path d="M215,1392 C220,1384 245,1382 258,1392 C264,1402 260,1412 250,1412 C238,1414 225,1410 215,1408 Z" fill="#fff" stroke="#777"/>
<path d="M278,1393 C290,1385 305,1388 303,1395 C298,1408 292,1420 282,1428 C272,1430 265,1425 270,1418 C276,1410 278,1402 278,1393 Z" fill="#fff" stroke="#777"/>
<ellipse cx="177" cy="1270" rx="153" ry="75" fill="url(#gMid)" fill-opacity="0.92" stroke="#d8c8a0" stroke-width="1"/>
<g fill="#fff" stroke="#a99a78" stroke-width="1">
 <ellipse cx="148" cy="1224" rx="22" ry="15"/><ellipse cx="244" cy="1235" rx="22" ry="15"/><ellipse cx="87" cy="1257" rx="22" ry="15"/><ellipse cx="174" cy="1270" rx="24" ry="17"/><ellipse cx="104" cy="1304" rx="22" ry="15"/><ellipse cx="200" cy="1316" rx="22" ry="15"/>
 <path d="M280,1262 C292,1258 305,1262 303,1275 C300,1290 292,1302 280,1305 C268,1305 265,1298 268,1288 C272,1278 272,1268 280,1262 Z"/>
 <path d="M128,1240 C125,1250 127,1262 134,1266 L140,1258 C136,1252 136,1246 138,1240 Z"/><path d="M180,1250 C195,1240 210,1238 222,1242 L220,1248 C208,1246 196,1250 184,1256 Z"/><path d="M100,1285 C118,1290 135,1290 150,1285 L150,1292 C135,1296 118,1296 100,1292 Z"/><path d="M150,1310 C162,1305 172,1305 180,1300 L182,1306 C174,1312 162,1314 152,1316 Z"/><path d="M215,1290 C222,1296 224,1304 220,1312 L226,1312 C230,1304 228,1294 220,1288 Z"/>
</g>
<path d="M60,1240 C70,1225 90,1225 100,1235 M130,1205 C140,1195 160,1195 170,1205 M230,1215 C240,1205 260,1208 270,1222 M70,1320 C80,1330 100,1332 110,1325 M175,1335 C185,1345 210,1345 220,1338" stroke="#b8a880" stroke-width="1.2" fill="none"/>
<ellipse cx="177" cy="1124" rx="153" ry="73" fill="url(#gTop)" fill-opacity="0.95" stroke="#e6cdb0" stroke-width="1"/>
<ellipse cx="181" cy="1125" rx="31" ry="20" fill="#7b6b5b"/>
<path d="M205,1114 L212,1108 L214,1100" stroke="#e8982a" stroke-width="2.5" fill="none"/>
<path d="M278,1117 C292,1108 308,1112 305,1128 C302,1145 288,1158 270,1161 C258,1162 258,1150 266,1145 C276,1138 276,1125 278,1117 Z" fill="#706757"/>
<use href="#sensC" transform="translate(163,1080) rotate(0)"/>
<use href="#sensC" transform="translate(244,1098) rotate(-70)"/>
<use href="#sensC" transform="translate(80,1113) rotate(80)"/>
<use href="#sensC" transform="translate(100,1160) rotate(70)"/>
<use href="#sensC" transform="translate(196,1178) rotate(10)"/>
<path d="M235,1155 L270,1172" stroke="#333" stroke-width="4" stroke-dasharray="3,2"/>
<path d="M134,1180 L140,1160 M140,1182 L146,1162 M146,1184 L152,1164" stroke="#e8982a" stroke-width="2.5"/>
<ellipse cx="182" cy="1512" rx="26" ry="12" fill="#e3cff0" stroke="#b99ad0"/>
<path d="M156,1512 L156,1520 C160,1530 204,1530 208,1520 L208,1512" fill="#d7bfe8" stroke="#b99ad0"/>
<path d="M282,1482 C296,1478 304,1484 302,1495 C298,1512 290,1525 276,1532 C266,1535 262,1528 266,1520 C272,1510 272,1496 282,1482 Z" fill="#e0ccf0" stroke="#b99ad0"/>
<text x="426" y="1101" font-size="23" text-anchor="middle">Stress hormone</text>
<text x="426" y="1130" font-size="23" text-anchor="middle">sensors</text>
<text x="342" y="1274" font-size="23">Microfluidic module</text>
<text x="342" y="1401" font-size="23">Collection layer</text>
<text x="342" y="1528" font-size="23">Carbagels</text>

<!-- ================= PANEL D ================= -->
<text x="556" y="1048" font-size="27" class="b">D</text>
<!-- circle i -->
<g transform="translate(724,1138)">
 <use href="#dbase"/>
 <path d="M-30,-20 C-10,-28 15,-30 28,-20 C40,-8 38,10 26,20 C12,32 -15,32 -32,20" stroke="#999" stroke-width="2" fill="none"/>
 <path d="M-5,-28 C0,-20 10,-22 28,-20 C40,-8 38,10 26,20" stroke="#1d5a8e" stroke-width="2.2" fill="none"/>
 <path d="M-2,-28 L-14,-38" stroke="#1d5a8e" stroke-width="2"/><circle cx="-15" cy="-39" r="3.5" fill="#1d5a8e"/>
 <path d="M-8,-44 C5,-54 20,-56 36,-54" stroke="#1d5a8e" stroke-width="8" fill="none" stroke-linecap="round"/>
 <path d="M20,-25 C35,-28 48,-20 56,-8" stroke="#1d5a8e" stroke-width="8" fill="none" stroke-linecap="round"/>
 <path d="M-30,0 C-45,2 -52,-8 -55,-14" stroke="#999" stroke-width="9" fill="none"/><path d="M-30,0 C-45,2 -52,-8 -55,-14" stroke="#fff" stroke-width="6" fill="none"/>
 <path d="M-22,30 C-32,38 -40,42 -46,42" stroke="#999" stroke-width="9" fill="none"/><path d="M-22,30 C-32,38 -40,42 -46,42" stroke="#fff" stroke-width="6" fill="none"/>
 <path d="M14,28 C18,38 16,48 12,54" stroke="#999" stroke-width="9" fill="none"/><path d="M14,28 C18,38 16,48 12,54" stroke="#fff" stroke-width="6" fill="none"/>
 <path d="M14,28 C16,32 17,36 17,38" stroke="#f2b324" stroke-width="6" fill="none"/>
 <use href="#elO" transform="translate(58,-48)"/><use href="#elW" transform="translate(-67,-35)"/><use href="#elO" transform="translate(66,24)"/><use href="#elW" transform="translate(-59,37)"/><use href="#elW" transform="translate(6,72)"/>
</g>
<!-- inlet i -->
<path d="M915,1182 C960,1162 1010,1152 1030,1122 L1040,1097 L1062,1102 C1062,1150 1030,1180 985,1195 C960,1203 935,1206 915,1202 Z" fill="#f6f6e2" stroke="#9aa070" stroke-width="1.5"/>
<path d="M915,1182 C960,1162 1010,1152 1030,1122 L1036,1128 C1015,1160 965,1172 918,1192 Z" fill="#c9d49d"/>
<path d="M1030,1122 L1040,1097 L1062,1102 C1062,1130 1055,1148 1040,1160 C1035,1148 1032,1135 1030,1122 Z" fill="#f3b420" stroke="#b08010"/>
<rect x="910" y="1182" width="14" height="18" fill="#c9d49d" stroke="#8a9060"/>
<g><circle cx="1044" cy="1118" r="4" fill="#7cc7a0"/><circle cx="1052" cy="1128" r="4" fill="#d49090"/><circle cx="1045" cy="1140" r="4" fill="#7cc7a0"/><circle cx="1010" cy="1170" r="3" fill="#2ab0e6"/><circle cx="995" cy="1180" r="3" fill="#7cc78a"/><circle cx="975" cy="1186" r="3" fill="#8a55c0"/><circle cx="955" cy="1190" r="3" fill="#2ab0e6"/><circle cx="1025" cy="1165" r="3" fill="#7cc78a"/></g>
<path d="M1030,1068 C1020,1078 1020,1090 1030,1096" stroke="#333" stroke-width="1.5" fill="none" marker-end="url(#mSm)"/>
<path d="M900,1205 C895,1215 888,1218 880,1212" stroke="#333" stroke-width="1.5" fill="none" marker-end="url(#mSm)"/>
<text x="1024" y="1085" font-size="23">Inlet</text>
<text x="867" y="1233" font-size="23">Outlet</text>
<text x="863" y="1291" font-size="23" text-anchor="middle">i. Sampling and reconstitution</text>

<!-- circle ii -->
<g transform="translate(1250,1138)">
 <use href="#dbase"/>
 <path d="M-30,-20 C-10,-28 15,-30 28,-20 C40,-8 38,10 26,20 C12,32 -15,32 -32,20" stroke="#1d5a8e" stroke-width="2.2" fill="none"/>
 <path d="M-2,-28 L-14,-38" stroke="#1d5a8e" stroke-width="2"/><circle cx="-15" cy="-39" r="3.5" fill="#1d5a8e"/>
 <g stroke="#1d5a8e" stroke-width="8" fill="none" stroke-linecap="round">
  <path d="M-8,-44 C5,-54 20,-56 36,-54"/><path d="M20,-25 C35,-28 48,-20 56,-8"/><path d="M-30,0 C-45,2 -52,-8 -55,-14"/><path d="M-22,30 C-32,38 -40,42 -46,42"/><path d="M14,28 C18,38 16,48 12,54"/>
 </g>
 <use href="#elO" transform="translate(58,-48)"/><use href="#elO" transform="translate(-67,-35)"/><use href="#elO" transform="translate(66,24)"/><use href="#elO" transform="translate(-59,37)"/><use href="#elO" transform="translate(6,72)"/>
</g>
<!-- cylinder ii -->
<path d="M1456,1140 L1456,1192 A100,38 0 0 0 1656,1192 L1656,1140 Z" fill="#eea910" stroke="#7a5a10" stroke-width="1.5"/>
<ellipse cx="1556" cy="1140" rx="100" ry="38" fill="#f5bd2a" fill-opacity="0.95" stroke="#7a5a10" stroke-width="1.5"/>
<ellipse cx="1556" cy="1150" rx="85" ry="28" fill="#e9a814" stroke="#8a6a20" stroke-width="1" fill-opacity="0.8"/>
<path d="M1520,1200 L1520,1228 M1556,1200 L1556,1230 M1590,1198 L1590,1226" stroke="#6a4a10" stroke-width="2"/>
<path d="M1612,1108 C1620,1095 1630,1088 1640,1085 L1660,1082 L1660,1125 L1625,1128 Z" fill="#2a5f96"/>
<g><circle cx="1505" cy="1132" r="5" fill="#7cc7a0"/><circle cx="1530" cy="1120" r="5" fill="#d49090"/><circle cx="1560" cy="1118" r="5" fill="#7cc7a0"/><circle cx="1590" cy="1125" r="5" fill="#d49090"/><circle cx="1615" cy="1135" r="5" fill="#7cc7a0"/><circle cx="1500" cy="1155" r="5" fill="#d49090"/></g>
<path d="M1540,1150 L1540,1138 L1534,1130 M1540,1138 L1546,1130 M1580,1155 L1580,1143 L1574,1135 M1580,1143 L1586,1135" stroke="#7cc78a" stroke-width="3" fill="none"/>
<path d="M1493,1168 L1455,1185 M1495,1188 L1465,1218" stroke="#888" stroke-width="3"/>
<path d="M1455,1185 L1440,1190 M1465,1218 L1455,1226" stroke="#333" stroke-width="1.5" marker-end="url(#mSm)"/>
<path d="M1468,1172 L1476,1182 M1476,1172 L1468,1182 M1474,1202 L1482,1212 M1482,1202 L1474,1212" stroke="#d02030" stroke-width="2"/>
<path d="M1630,1060 C1640,1062 1645,1070 1644,1080" stroke="#333" stroke-width="1.5" fill="none" marker-end="url(#mSm)"/>
<text x="1571" y="1076" font-size="23">Inlet</text>
<text x="1426" y="1290" font-size="23" text-anchor="middle">ii. Incubation</text>

<!-- circle iii -->
<g transform="translate(724,1432)">
 <use href="#dbase"/>
 <path d="M35.1,-67.4 A30,30 0 1 1 72.8,-21.9 Q62,-14 71.2,-5.5 A30,30 0 1 1 51,50" stroke="#1d5a8e" stroke-width="3" fill="none"/>
 <path d="M35,64.3 A30,30 0 0 1 15,88" stroke="#b09020" stroke-width="3" fill="none"/>
 <path d="M-30,-20 C-10,-28 15,-30 28,-20 C40,-8 38,10 26,20 C12,32 -15,32 -32,20" stroke="#1d5a8e" stroke-width="2.2" fill="none"/>
 <path d="M-2,-28 L-14,-38" stroke="#8ec6e6" stroke-width="2"/><circle cx="-15" cy="-39" r="3.5" fill="#8ec6e6"/>
 <g stroke-width="8" fill="none" stroke-linecap="round">
  <path d="M-8,-44 C5,-54 20,-56 36,-54" stroke="#9fd0ea"/><path d="M20,-25 C35,-28 48,-20 56,-8" stroke="#9fd0ea"/><path d="M-30,0 C-45,2 -52,-8 -55,-14" stroke="#1d5a8e"/><path d="M-22,30 C-32,38 -40,42 -46,42" stroke="#1d5a8e"/><path d="M14,28 C18,38 16,48 12,54" stroke="#1d5a8e"/>
 </g>
 <use href="#elB" transform="translate(58,-48)"/><use href="#elO" transform="translate(-67,-35)"/><use href="#elO" transform="translate(66,24)"/><use href="#elO" transform="translate(-59,37)"/><use href="#elO" transform="translate(6,72)"/>
</g>
<!-- cylinder iii -->
<path d="M903,1450 L903,1500 A100,30 0 0 0 1103,1500 L1103,1450 Z" fill="#7ec3e2" fill-opacity="0.9" stroke="#2a3a50" stroke-width="1.5"/>
<ellipse cx="1003" cy="1450" rx="100" ry="42" fill="#a6d8ef" fill-opacity="0.9" stroke="#2a3a50" stroke-width="2"/>
<path d="M905,1430 C930,1395 1000,1385 1060,1400 L1060,1412 C1000,1398 935,1408 912,1440 Z" fill="#4a5a6a" fill-opacity="0.6"/>
<path d="M1045,1400 C1055,1385 1075,1365 1098,1357 L1100,1410 L1060,1412 Z" fill="#3a8ac0"/>
<path d="M960,1470 L960,1527 M1000,1470 L1000,1528 M1045,1470 L1045,1525" stroke="#9a7040" stroke-width="5"/>
<g fill="#9a8060"><ellipse cx="960" cy="1465" rx="14" ry="8"/><ellipse cx="1005" cy="1445" rx="14" ry="8"/><ellipse cx="1048" cy="1462" rx="14" ry="8"/></g>
<path d="M952,1455 L952,1440 L945,1432 M952,1440 L959,1432 M1000,1440 L1000,1425 L993,1417 M1000,1425 L1007,1417" stroke="#8a55c0" stroke-width="3" fill="none"/>
<circle cx="945" cy="1430" r="4" fill="#8a55c0"/><circle cx="959" cy="1430" r="4" fill="#8a55c0"/><circle cx="993" cy="1415" r="4" fill="#7cc78a"/><circle cx="1007" cy="1415" r="4" fill="#7cc78a"/>
<path d="M1050,1455 L1050,1440 L1043,1432 M1050,1440 L1057,1432" stroke="#3a9ad6" stroke-width="3" fill="none"/>
<circle cx="1043" cy="1430" r="4" fill="#3a9ad6"/><circle cx="1057" cy="1430" r="4" fill="#3a9ad6"/>
<path d="M930,1470 L862,1490 M940,1485 L910,1518" stroke="#555" stroke-width="3"/>
<path d="M930,1463 L866,1482" stroke="#2f7fc4" stroke-width="2" marker-end="url(#mDb)"/>
<path d="M935,1495 L908,1520" stroke="#2f7fc4" stroke-width="2" marker-end="url(#mDb)"/>
<circle cx="878" cy="1445" r="6" fill="#2ab0e6"/><circle cx="865" cy="1465" r="6" fill="#7cc78a"/>
<path d="M1070,1372 C1080,1360 1090,1362 1092,1374" stroke="#333" stroke-width="1.5" fill="none" marker-end="url(#mSm)"/>
<text x="863" y="1584" font-size="23" text-anchor="middle">iii. Refreshment</text>

<!-- circle iv -->
<g transform="translate(1250,1432)">
 <use href="#dbase"/>
 <path d="M35,64.3 A30,30 0 1 1 -23.9,69.3 Q-28,58 -38.9,59.3 A30,30 0 1 1 -70.3,9.2 Q-62,0 -76.1,-6.4 A30,30 0 0 1 -90,-30" stroke="#5a8ab0" stroke-width="3" fill="none"/>
 <path d="M-90,-30 A30,30 0 0 1 -70,-65" stroke="#a09020" stroke-width="3" fill="none"/>
 <path d="M-30,-20 C-10,-28 15,-30 28,-20 C40,-8 38,10 26,20 C12,32 -15,32 -32,20" stroke="#8ec6e6" stroke-width="2.2" fill="none"/>
 <path d="M-2,-28 L-14,-38" stroke="#8ec6e6" stroke-width="2"/><circle cx="-15" cy="-39" r="3.5" fill="#8ec6e6"/>
 <g stroke="#a6d6ee" stroke-width="8" fill="none" stroke-linecap="round">
  <path d="M-8,-44 C5,-54 20,-56 36,-54"/><path d="M20,-25 C35,-28 48,-20 56,-8"/><path d="M-30,0 C-45,2 -52,-8 -55,-14"/><path d="M-22,30 C-32,38 -40,42 -46,42"/><path d="M14,28 C18,38 16,48 12,54"/>
 </g>
 <use href="#elB" transform="translate(58,-48)"/><use href="#elB" transform="translate(-67,-35)"/><use href="#elB" transform="translate(66,24)"/><use href="#elB" transform="translate(-59,37)"/><use href="#elB" transform="translate(6,72)"/>
</g>
<!-- antibody detection -->
<rect x="1370" y="1504" width="91" height="14" fill="#a8682a"/>
<g fill="#e3b040" stroke="#b08020" stroke-width="0.8"><circle cx="1392" cy="1500" r="5"/><circle cx="1394" cy="1490" r="5"/><circle cx="1396" cy="1480" r="5"/><circle cx="1398" cy="1470" r="5"/><circle cx="1402" cy="1460" r="5"/><circle cx="1410" cy="1452" r="5"/><circle cx="1420" cy="1448" r="5"/><circle cx="1405" cy="1445" r="5"/><circle cx="1404" cy="1435" r="5"/><circle cx="1430" cy="1450" r="5"/><circle cx="1440" cy="1450" r="5"/></g>
<path d="M1420,1420 C1430,1405 1455,1405 1465,1420 C1472,1440 1460,1455 1440,1452 C1425,1450 1412,1438 1420,1420 Z" fill="#e6e6e6" stroke="#cfcfcf"/>
<path d="M1440,1440 L1448,1384 M1452,1442 L1458,1388 M1448,1430 L1480,1418 M1452,1440 L1484,1428" stroke="#8a55c0" stroke-width="5" fill="none"/>
<circle cx="1448" cy="1372" r="14" fill="#7a3fa8"/>
<circle cx="1494" cy="1418" r="14" fill="#7a3fa8"/>
<circle cx="1508" cy="1430" r="4" fill="#2ab0e6"/>
<path d="M1458,1500 C1470,1490 1472,1475 1468,1462" stroke="#c0202a" stroke-width="2" fill="none" marker-end="url(#mRd)"/>
<text x="1438" y="1494" font-size="20" style="fill:#c0202a">e<tspan font-size="13" dy="-9" style="fill:#c0202a">−</tspan></text>
<rect x="1564" y="1350" width="150" height="154" fill="#fff" stroke="#111" stroke-width="2.5"/>
<path d="M1565,1473 C1580,1455 1595,1435 1606,1435 C1616,1435 1620,1442 1630,1442 C1645,1440 1655,1418 1674,1418 C1690,1418 1702,1422 1713,1427" stroke="#d0303a" stroke-width="2" fill="none"/>
<path d="M1565,1477 C1580,1460 1594,1442 1606,1442 C1620,1442 1625,1478 1636,1478 C1648,1478 1655,1424 1674,1423 C1690,1423 1702,1428 1713,1432" stroke="#222" stroke-width="2" fill="none"/>
<text x="1572" y="1377" font-size="21"><tspan style="fill:#d0303a">+/</tspan>– Stress</text>
<text x="1572" y="1405" font-size="21">hormones</text>
<text transform="translate(1555,1427) rotate(-90)" font-size="21" text-anchor="middle">Current</text>
<text x="1633" y="1535" font-size="23" text-anchor="middle">Voltage</text>
<text x="1426" y="1583" font-size="23" text-anchor="middle">iv. Detection</text>

<!-- ================= PANEL E ================= -->
<text x="22" y="1634" font-size="27" class="b">E</text>
<rect x="50" y="1632" width="482" height="361" fill="#f7f7f7"/>
<ellipse cx="296" cy="1818" rx="128" ry="129" fill="url(#gDisc)" stroke="#cf8a00" stroke-width="2"/>
<g stroke="#f6d36a" stroke-width="7" fill="none" stroke-linecap="round">
 <path d="M255,1760 C270,1770 285,1775 296,1790"/><path d="M320,1800 C340,1790 355,1790 365,1795"/><path d="M270,1820 C255,1825 240,1828 225,1830"/><path d="M315,1835 C330,1845 340,1855 350,1865"/><path d="M290,1845 C288,1860 285,1875 282,1890"/><path d="M330,1760 C335,1770 340,1780 345,1790"/>
</g>
<ellipse cx="298" cy="1814" rx="24" ry="27" fill="#111"/>
<path d="M270,1722 C288,1706 335,1706 354,1720 L350,1738 C330,1726 295,1726 276,1740 Z" fill="#111"/>
<g fill="#f3d37c" stroke="#4a3010" stroke-width="2.5">
 <circle cx="229" cy="1746" r="25"/><circle cx="379" cy="1796" r="25"/><circle cx="208" cy="1830" r="25"/><circle cx="362" cy="1868" r="25"/><circle cx="279" cy="1901" r="25"/>
</g>
<g stroke="#5a3a10" stroke-width="2.5" fill="none">
 <path d="M220,1740 L205,1725 M230,1748 L215,1730 M238,1752 L225,1732"/><path d="M372,1790 L392,1775 M380,1798 L400,1784 M388,1805 L405,1795"/><path d="M200,1825 L185,1840 M208,1832 L192,1850 M216,1838 L200,1855"/><path d="M355,1862 L370,1845 M363,1870 L380,1855 M370,1876 L388,1862"/><path d="M272,1898 L265,1925 M280,1902 L278,1928 M288,1898 L292,1924"/>
</g>
<g fill="#4a3010"><circle cx="224" cy="1744" r="4"/><circle cx="234" cy="1750" r="4"/><circle cx="376" cy="1792" r="4"/><circle cx="384" cy="1800" r="4"/><circle cx="204" cy="1828" r="4"/><circle cx="212" cy="1834" r="4"/><circle cx="358" cy="1866" r="4"/><circle cx="366" cy="1872" r="4"/><circle cx="274" cy="1898" r="4"/><circle cx="284" cy="1898" r="4"/></g>
<polygon points="106,1993 130,1993 212,1900 218,1888 209,1893" fill="#111"/>
<line x1="190" y1="1915" x2="218" y2="1888" stroke="#999" stroke-width="2"/>
<rect x="444" y="1962" width="63" height="6" fill="#111"/>

<!-- ================= PANEL F ================= -->
<text x="568" y="1637" font-size="27" class="b">F</text>
<rect x="608" y="1632" width="481" height="361" fill="#f7f7f7"/>
<ellipse cx="868" cy="1880" rx="178" ry="74" transform="rotate(-12 868 1880)" fill="#eca416" stroke="#c98400" stroke-width="2"/>
<g fill="#111"><circle cx="835" cy="1908" r="14"/><circle cx="925" cy="1880" r="14"/></g>
<g stroke="#7a4a00" stroke-width="2.5" fill="none"><path d="M760,1920 L770,1955 M775,1918 L785,1952 M790,1916 L800,1948 M900,1895 L910,1930 M915,1892 L925,1926 M930,1888 L940,1922 M945,1882 L955,1915"/></g>
<ellipse cx="845" cy="1783" rx="195" ry="108" transform="rotate(-22 845 1783)" fill="#f2aa1a" stroke="#d08a00" stroke-width="2"/>
<g stroke="#e59a00" stroke-width="1.5" fill="none"><path d="M700,1800 L760,1790 L800,1760 L860,1750 M720,1830 L780,1815 L820,1790 L900,1780 M740,1850 L800,1840 L850,1810 L940,1790 M780,1860 L850,1850 L900,1830 L980,1780"/></g>
<rect x="755" y="1685" width="48" height="55" fill="#cfcfcf" stroke="#888" transform="rotate(-15 779 1712)"/>
<rect x="748" y="1672" width="12" height="14" fill="#eee" stroke="#888" transform="rotate(-15 754 1679)"/>
<rect x="868" y="1718" width="75" height="30" fill="#1a1a1a" transform="rotate(-15 905 1733)"/>
<rect x="725" y="1770" width="50" height="45" fill="#1c1c1c" transform="rotate(-15 750 1792)"/>
<circle cx="978" cy="1728" r="17" fill="#c8c8c8" stroke="#888"/>
<rect x="887" y="1685" width="16" height="14" fill="#111"/>
<rect x="950" y="1760" width="12" height="40" fill="#222"/>
<rect x="860" y="1780" width="12" height="20" fill="#222"/><rect x="900" y="1790" width="14" height="14" fill="#222"/><rect x="892" y="1812" width="14" height="18" fill="#222"/><rect x="800" y="1830" width="18" height="16" fill="#222"/><rect x="932" y="1800" width="14" height="16" fill="#222"/>
<polygon points="608,1900 608,1935 702,1768 696,1764" fill="#a9a9a9"/>
<line x1="612" y1="1905" x2="699" y2="1766" stroke="#e5e5e5" stroke-width="2"/>
<rect x="987" y="1966" width="81" height="6" fill="#111"/>

<!-- ================= PANEL G ================= -->
<text x="1133" y="1639" font-size="27" class="b">G</text>
<rect x="1190" y="1632" width="271" height="361" fill="#f6f4f2"/>
<path d="M1262,1632 L1305,1632 C1295,1700 1300,1800 1292,1993 L1236,1993 C1230,1850 1228,1700 1262,1632 Z" fill="#1e1e1e"/>
<path d="M1300,1648 C1330,1630 1400,1630 1432,1660 C1450,1700 1456,1800 1452,1993 L1286,1993 C1292,1850 1288,1720 1300,1648 Z" fill="#ebc8be"/>
<ellipse cx="1329" cy="1777" rx="20" ry="27" fill="#e3a41c" stroke="#b07810" stroke-width="1.5"/>
<g fill="#333"><rect x="1320" y="1765" width="6" height="6"/><rect x="1332" y="1775" width="7" height="5"/><rect x="1322" y="1788" width="5" height="6"/></g>
<rect x="1392" y="1971" width="55" height="6" fill="#111"/>
<rect x="1472" y="1632" width="276" height="366" fill="#f7f6f5"/>
<path d="M1527,1720 L1590,1712 C1600,1760 1640,1830 1695,1915 C1720,1945 1740,1960 1748,1970 L1748,1998 L1612,1998 C1600,1960 1590,1930 1575,1880 C1560,1830 1535,1790 1527,1720 Z" fill="#f2cfb2"/>
<path d="M1485,1660 C1490,1640 1505,1632 1520,1636 C1545,1630 1575,1640 1585,1660 C1592,1685 1590,1705 1590,1722 L1530,1728 C1510,1720 1488,1700 1485,1660 Z" fill="#f4d3b9" stroke="#e0b89a" stroke-width="1"/>
<path d="M1500,1660 C1515,1655 1535,1658 1550,1665 M1505,1680 C1520,1676 1540,1680 1555,1688" stroke="#d8ab8c" stroke-width="1.5" fill="none"/>
<ellipse cx="1628" cy="1911" rx="18" ry="24" fill="#e3a41c" stroke="#b07810" stroke-width="1.5"/>
<g fill="#333"><rect x="1622" y="1900" width="5" height="5"/><rect x="1630" y="1912" width="6" height="5"/></g>
<rect x="1678" y="1975" width="45" height="6" fill="#111"/>
</svg>
</body></html>
